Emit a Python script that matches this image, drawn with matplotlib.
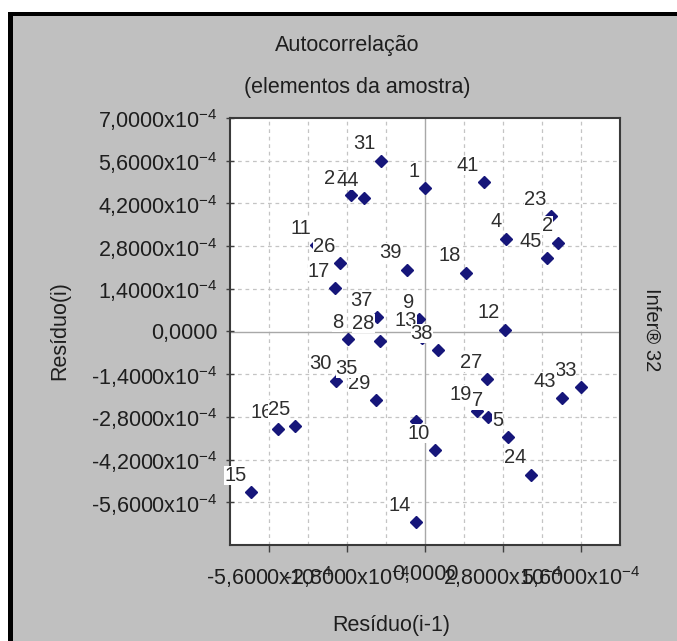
import numpy as np
import matplotlib
matplotlib.use("Agg")
import matplotlib.pyplot as plt
from matplotlib.patches import Rectangle
from matplotlib.ticker import FixedLocator, FuncFormatter

plt.rcParams["font.family"] = ["Liberation Sans", "DejaVu Sans"]
plt.rcParams["mathtext.fontset"] = "custom"
plt.rcParams["mathtext.rm"] = "Liberation Sans"
plt.rcParams["mathtext.default"] = "regular"

# residuals, in units of 1e-4
labels = ["1", "2", "4", "5", "7", "8", "9", "10", "11", "12", "13", "14", "15",
          "16", "17", "18", "19", "22", "23", "24", "25", "26", "27", "28", "29",
          "30", "31", "33", "35", "37", "38", "39", "41", "43", "44", "45", ""]
res_prev = [0.00, 4.77, 2.92, 2.98, 2.26, -2.76, -0.20, 0.35, -3.91, 2.86, -0.10,
            -0.33, -6.23, -5.28, -3.23, 1.48, 1.88, -2.66, 4.54, 3.82, -4.66,
            -3.05, 2.23, -1.62, -1.77, -3.19, -1.58, 5.61, -2.23, -1.72, 0.47,
            -0.65, 2.11, 4.90, -2.19, 4.39, -0.31]
res_curr = [4.69, 2.91, 3.04, -3.47, -2.81, -0.26, 0.40, -3.90, 2.82, 0.06, -0.20,
            -6.25, -5.27, -3.21, 1.41, 1.92, -2.62, 4.46, 3.78, -4.69, -3.10,
            2.23, -1.57, -0.30, -2.26, -1.61, 5.60, -1.83, -1.77, 0.46, -0.62,
            2.03, 4.90, -2.19, 4.39, 2.40, -2.92]

scale = 1e-4
x = np.array(res_prev) * scale
y = np.array(res_curr) * scale

W, H = 677, 641
fig = plt.figure(figsize=(W / 100, H / 100), dpi=100)
fig.patch.set_facecolor("#c0c0c0")

# cropped window frame: white margin + black border on top and left
fig.add_artist(Rectangle((0, 1 - 12 / H), 1, 12 / H, transform=fig.transFigure,
                         facecolor="white", edgecolor="none"))
fig.add_artist(Rectangle((0, 0), 8 / W, 1, transform=fig.transFigure,
                         facecolor="white", edgecolor="none"))
fig.add_artist(Rectangle((8 / W, 1 - 16 / H), 1, 4 / H, transform=fig.transFigure,
                         facecolor="black", edgecolor="none"))
fig.add_artist(Rectangle((8 / W, 0), 5 / W, 1 - 12 / H, transform=fig.transFigure,
                         facecolor="black", edgecolor="none"))

ax = fig.add_axes([230 / W, 1 - 545 / H, 390 / W, 427 / H])
ax.set_facecolor("white")
lim = 7.0 * scale
ax.set_xlim(-lim, lim)
ax.set_ylim(-lim, lim)

grid = np.arange(-7.0, 7.01, 1.4) * scale
for g in grid[1:-1]:
    if abs(g) < 1e-12:
        continue
    ax.axvline(g, color="#c4c4c4", lw=0.9, ls=(0, (3, 3)), zorder=0)
    ax.axhline(g, color="#c4c4c4", lw=0.9, ls=(0, (3, 3)), zorder=0)
ax.axvline(0, color="#a8a8a8", lw=1.0, zorder=0.5)
ax.axhline(0, color="#a8a8a8", lw=1.0, zorder=0.5)

ax.plot(x, y, ls="none", marker="D", ms=6, color="#16167a", zorder=3)

for lab, xi, yi in zip(labels, x, y):
    if not lab:
        continue
    ax.annotate(lab, (xi, yi), xytext=(-5, 17), textcoords="offset pixels",
                ha="right", va="center", fontsize=14.5, color="#2e2e2e",
                zorder=4,
                bbox=dict(facecolor="white", edgecolor="none", pad=0))


def fmt(v, pos=None):
    m = v / scale
    if abs(m) < 1e-9:
        return "0,0000"
    return f"{m:.4f}".replace(".", ",") + "x10$^{-4}$"


ax.xaxis.set_major_locator(FixedLocator(np.array([-5.6, -2.8, 0, 2.8, 5.6]) * scale))
ax.yaxis.set_major_locator(FixedLocator(grid[1:]))
ax.xaxis.set_major_formatter(FuncFormatter(fmt))
ax.yaxis.set_major_formatter(FuncFormatter(fmt))
ax.tick_params(axis="x", direction="out", length=5, width=1, color="#404040",
               labelsize=15.5, pad=9, labelcolor="#1e1e1e")
ax.tick_params(axis="y", direction="inout", length=6, width=1, color="#404040",
               labelsize=15.5, pad=6, labelcolor="#1e1e1e")
for sp in ax.spines.values():
    sp.set_color("#3a3a3a")
    sp.set_linewidth(1.5)

fig.text(347 / W, 1 - 45 / H, "Autocorrelação", ha="center", va="center",
         fontsize=15.5, color="#1e1e1e")
fig.text(357 / W, 1 - 88 / H, "(elementos da amostra)", ha="center", va="center",
         fontsize=15.5, color="#1e1e1e")
fig.text(391 / W, 1 - 625 / H, "Resíduo(i-1)", ha="center", va="center",
         fontsize=15.5, color="#1e1e1e")
fig.text(60 / W, 1 - 331 / H, "Resíduo(i)", ha="center", va="center",
         rotation=90, fontsize=15.5, color="#1e1e1e")
fig.text(652 / W, 1 - 330 / H, "Infer® 32", ha="center", va="center",
         rotation=270, fontsize=14.5, color="#1e1e1e")

fig.savefig("out.png", dpi=100, facecolor=fig.get_facecolor())
